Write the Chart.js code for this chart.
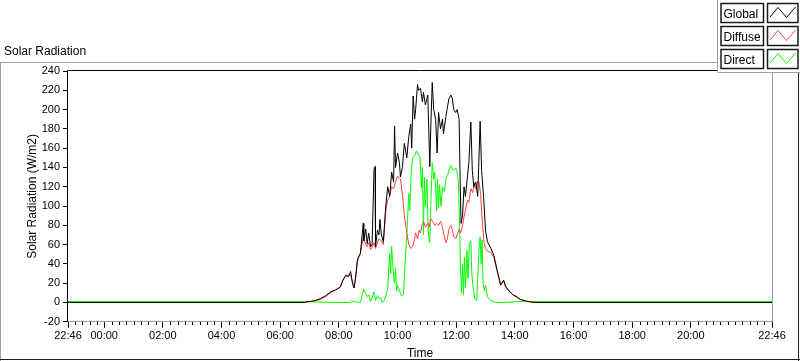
<!DOCTYPE html>
<html><head><meta charset="utf-8">
<script src="https://cdn.jsdelivr.net/npm/chart.js@4/dist/chart.umd.min.js"></script>
<style>html,body{margin:0;padding:0;background:#fff;overflow:hidden}canvas{display:block}</style>
</head><body>
<canvas id="c" width="800" height="361" style="width:800px;height:361px"></canvas>
<script>
// ---- Data (time in minutes since 00:00; -74 = 22:46 previous day, 1366 = 22:46) ----
const chartTitle = 'Solar Radiation';
const seriesNames = ['Global', 'Diffuse', 'Direct'];
const xMin = -74, xMax = 1366;
const xLabelTimes = [-74, 0, 120, 240, 360, 480, 600, 720, 840, 960, 1080, 1200, 1366];
const yTicks = [-20, 0, 20, 40, 60, 80, 100, 120, 140, 160, 180, 200, 220, 240];

const globalTimes = [-74,410,412,422,432,442,453,463,473,477,483,488,494,500,504,508,511,514,518,520,524,530,531,535,538,541,545,548,552,554,555,559,562,564,567,571,576,580,584,588,592,594,596,600,604,606,610,614,619,623,627,629,632,635,637,641,643,647,651,653,657,662,666,668,671,674,678,681,684,688,692,694,699,703,705,709,712,715,719,722,726,728,730,733,736,739,746,750,753,756,760,764,766,769,772,776,780,784,791,797,804,811,817,821,828,836,844,852,862,873,879,1366];
const globalValues = [0,0,0.5,1,2,4,7,11,13,14,16,23,28,27,32,20,15,25,44,47,51,82,64,76,61,72,58,60,138,141,58,75,70,86,70,63,100,120,110,135,125,183,140,155,145,130,140,165,150,172,185,160,214,190,200,226,220,222,208,218,205,215,141,180,228,200,190,155,197,180,190,175,193,205,211,215,212,200,197,200,190,130,82,90,120,110,145,187,137,120,125,110,140,188,137,110,75,63,56,49,33,18,23,17,12,8,6,3,1.5,0.5,0,0];

const diffuseTimes = [-74,410,412,422,432,442,453,463,473,483,488,494,500,504,508,511,514,518,520,524,530,535,538,541,545,548,552,555,559,562,567,571,576,580,584,588,592,596,600,606,610,614,619,623,627,631,635,637,641,644,647,650,653,657,662,665,668,672,676,680,684,688,692,695,699,702,705,709,712,715,719,722,726,729,733,736,739,743,746,750,754,757,760,764,767,770,774,777,780,784,791,797,804,811,817,821,828,836,844,852,862,873,879,1366];
const diffuseValues = [0,0,0.5,1,2,3,6,10,13,16,22,28,27,30,20,15,24,42,46,50,68,60,58,62,55,57,62,56,62,66,64,60,95,106,110,120,118,125,131,128,112,90,72,60,56,58,66,72,66,75,72,80,84,78,82,78,87,84,80,82,80,84,78,70,62,66,76,80,76,68,66,70,76,72,80,89,96,106,104,118,114,124,118,126,124,112,80,62,56,53,52,47,32,18,23,16,12,8,5,3,1.5,0.5,0,0];

const directTimes = [-74,400,470,500,510,524,528,531,535,538,541,545,548,552,555,559,562,565,569,573,577,580,584,586,588,592,594,596,598,600,604,608,612,615,619,623,625,628,631,635,639,643,646,649,651,653,655,657,660,663,666,668,671,674,676,678,680,682,684,686,689,692,696,699,703,706,709,712,715,719,722,725,727,729,731,733,735,737,739,742,744,747,750,752,754,758,762,764,767,769,771,773,775,778,780,784,791,801,820,850,1366];
const directValues = [1,1,0,0,1,0,8,14,9,6,8,1,5,11,2,7,4,5,0,2,8,15,51,30,58,26,20,36,12,18,12,7,8,36,70,113,95,135,150,152,157,153,150,119,140,70,130,100,128,72,62,100,145,128,135,119,95,128,98,122,100,120,115,128,133,139,142,138,137,139,135,122,79,33,10,40,8,47,15,54,25,61,64,30,18,4,2,25,58,68,40,65,20,12,18,6,2,0,0,1,1];

const seriesColors = ['#000000', '#ff4040', '#00ff00'];

// ---- helpers ----
const pts = (ts, vs) => ts.map((t, i) => ({ x: t, y: vs[i] }));
const fmt = v => {
  if (v === xMin || v === xMax) return '22:46';
  const h = Math.floor(v / 60), m = v % 60;
  return String(h).padStart(2, '0') + ':' + String(m).padStart(2, '0');
};
const FONT = "'Liberation Sans', Arial, sans-serif";

const framePlugin = {
  id: 'frame',
  beforeDraw(chart) {
    const c = chart.ctx;
    c.save();
    c.fillStyle = '#ffffff';
    c.fillRect(0, 0, chart.width, chart.height);
    c.restore();
  },
  afterDraw(chart) {
    const c = chart.ctx;
    const a = chart.chartArea;
    const xs = chart.scales.x;
    const bottom = Math.round(a.bottom);
    c.save();
    // plot box
    c.lineWidth = 1;
    c.strokeStyle = '#a0a0a0';
    c.beginPath();
    c.moveTo(Math.round(a.right) + 0.5, Math.round(a.top));
    c.lineTo(Math.round(a.right) + 0.5, bottom);
    c.moveTo(Math.round(a.left), bottom - 0.5);
    c.lineTo(Math.round(a.right) + 1, bottom - 0.5);
    c.stroke();
    c.strokeStyle = '#000000';
    c.beginPath();
    c.moveTo(Math.round(a.left) - 0.5, Math.round(a.top) - 0.5);
    c.lineTo(Math.round(a.right) + 1, Math.round(a.top) - 0.5);
    c.moveTo(Math.round(a.left) - 0.5, Math.round(a.top) - 0.5);
    c.lineTo(Math.round(a.left) - 0.5, bottom);
    c.stroke();
    // minor x ticks every 15 minutes
    c.beginPath();
    for (let t = -60; t < xMax - 3; t += 15) {
      if (xLabelTimes.includes(t)) continue;
      const px = Math.round(xs.getPixelForValue(t)) + 0.5;
      c.moveTo(px, bottom);
      c.lineTo(px, bottom + 3);
    }
    c.stroke();
    // outer frame
    c.strokeStyle = '#a0a0a0';
    c.beginPath();
    c.moveTo(0, 62.5); c.lineTo(717, 62.5);
    c.moveTo(0.5, 62); c.lineTo(0.5, 361);
    c.stroke();
    c.strokeStyle = '#202020';
    c.beginPath();
    c.moveTo(0, 359.5); c.lineTo(800, 359.5);
    c.moveTo(798.5, 72); c.lineTo(798.5, 361);
    c.stroke();
    // title
    c.fillStyle = '#000000';
    c.font = '12px ' + FONT;
    c.textAlign = 'left';
    c.textBaseline = 'alphabetic';
    c.fillText(chartTitle, 4, 55);
    // legend panel
    c.fillStyle = '#ffffff';
    c.fillRect(717, 0, 83, 72);
    c.strokeStyle = '#a0a0a0';
    c.beginPath();
    c.moveTo(717.5, 0); c.lineTo(717.5, 72.5);
    c.lineTo(800, 72.5);
    c.stroke();
    const tops = [3, 26, 49];
    seriesNames.forEach((name, i) => {
      const top = tops[i];
      c.strokeStyle = '#1a1a1a';
      c.lineWidth = 1.5;
      c.strokeRect(721, top + 0.5, 42.5, 19);
      c.strokeRect(767.5, top + 0.5, 30.5, 19);
      c.fillStyle = '#000000';
      c.font = '12px ' + FONT;
      c.fillText(name, 723.5, top + 15);
      c.strokeStyle = seriesColors[i];
      c.lineWidth = 1;
      c.beginPath();
      c.moveTo(770, top + 14);
      c.lineTo(778, top + 4.5);
      c.lineTo(786.5, top + 14.5);
      c.lineTo(795.5, top + 4);
      c.stroke();
    });
    c.restore();
  }
};

new Chart(document.getElementById('c'), {
  type: 'line',
  data: {
    datasets: [
      { label: seriesNames[0], data: pts(globalTimes, globalValues), borderColor: seriesColors[0], order: 0 },
      { label: seriesNames[1], data: pts(diffuseTimes, diffuseValues), borderColor: seriesColors[1], order: 1 },
      { label: seriesNames[2], data: pts(directTimes, directValues), borderColor: seriesColors[2], order: 2 }
    ]
  },
  options: {
    responsive: false,
    animation: false,
    devicePixelRatio: 1,
    layout: { padding: { top: 71, right: 28, bottom: 0, left: 0 } },
    elements: { point: { radius: 0 }, line: { borderWidth: 1, tension: 0 } },
    plugins: { legend: { display: false }, tooltip: { enabled: false }, title: { display: false } },
    scales: {
      x: {
        type: 'linear', min: xMin, max: xMax,
        afterBuildTicks: s => { s.ticks = xLabelTimes.map(v => ({ value: v })); },
        afterFit: s => { s.height = 39.25; },
        ticks: { callback: v => fmt(v), autoSkip: false, maxRotation: 0, minRotation: 0, padding: 2,
                 font: { family: FONT, size: 11 }, color: '#000000' },
        grid: { drawOnChartArea: false, drawTicks: true, tickLength: 6, color: '#000000' },
        border: { display: false },
        title: { display: true, text: 'Time', padding: { top: 0, bottom: 0 },
                 font: { family: FONT, size: 12 }, color: '#000000' }
      },
      y: {
        min: -20, max: 240,
        afterBuildTicks: s => { s.ticks = yTicks.map(v => ({ value: v })); },
        afterFit: s => { s.width = 68; },
        ticks: { padding: 3, font: { family: FONT, size: 11 }, color: '#000000' },
        grid: { drawOnChartArea: false, drawTicks: true, tickLength: 5, color: '#000000' },
        border: { display: false },
        title: { display: true, text: 'Solar Radiation (W/m2)', padding: { top: 25, bottom: 0 },
                 font: { family: FONT, size: 12 }, color: '#000000' }
      }
    }
  },
  plugins: [framePlugin]
});
</script></body></html>
